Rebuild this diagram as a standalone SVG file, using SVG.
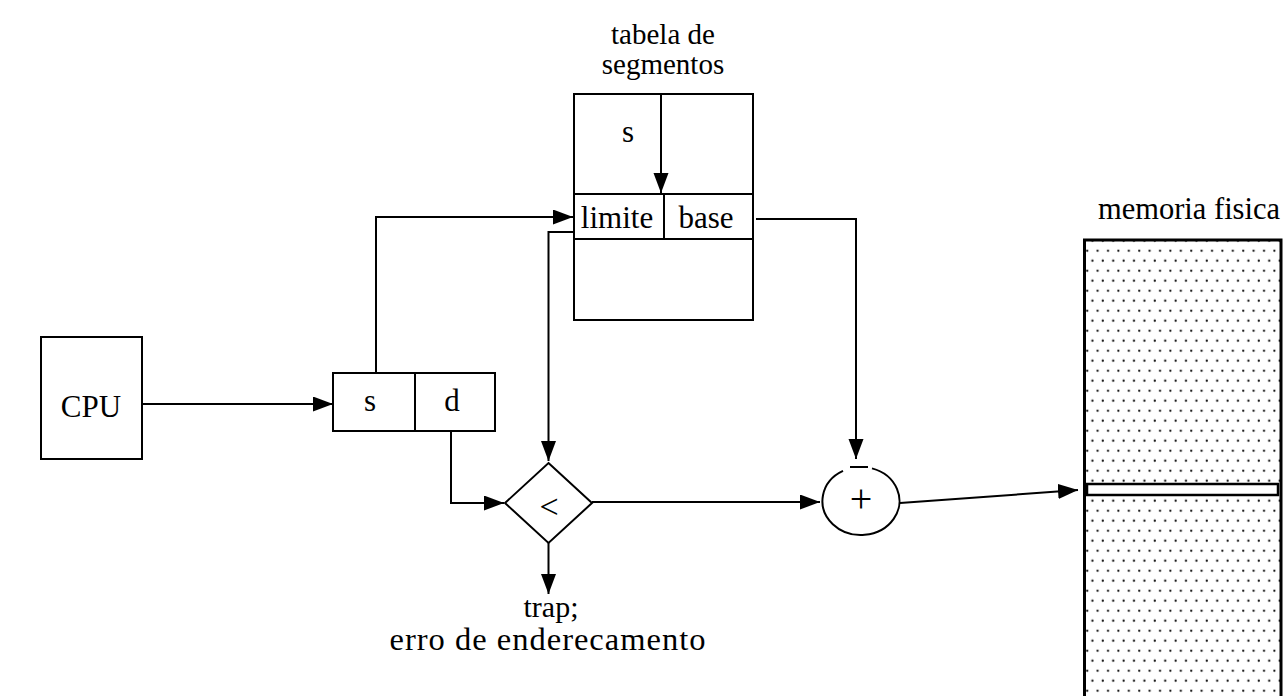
<svg xmlns="http://www.w3.org/2000/svg" width="1283" height="696" viewBox="0 0 1283 696">
<style>
.ln{fill:none;stroke:#000;stroke-width:2}
.bx{fill:#fff;stroke:#000;stroke-width:2}
.t{font-family:"Liberation Serif","Times New Roman",serif;font-size:29px;fill:#000;text-anchor:middle}
.c{font-size:31px}
</style>
<defs>
<marker id="ah" markerUnits="userSpaceOnUse" markerWidth="21" markerHeight="16" refX="20" refY="7.5" orient="auto">
<path d="M0,0 L20,7.5 L0,15 Z" fill="#000"/>
</marker>
<pattern id="dots" patternUnits="userSpaceOnUse" x="1086" y="249.7" width="10.4" height="20">
<circle cx="1.2" cy="1" r="1.15" fill="#111"/>
<circle cx="6.4" cy="11" r="1.15" fill="#111"/>
</pattern>
</defs>

<g id="title-tabela">
<text class="t" x="663" y="44">tabela de</text>
<text class="t" x="663" y="74">segmentos</text>
</g>

<g id="tabela">
<rect class="bx" x="574" y="94" width="179" height="226"/>
<line class="ln" x1="574" y1="194" x2="753" y2="194"/>
<line class="ln" x1="574" y1="239" x2="753" y2="239"/>
<line class="ln" x1="664" y1="194" x2="664" y2="239"/>
<text class="t c" x="628" y="142">s</text>
<text class="t c" x="617" y="228">limite</text>
<text class="t c" x="706" y="228">base</text>
</g>

<g id="cpu">
<rect class="bx" x="41" y="337" width="101" height="122"/>
<text class="t" x="91" y="417" style="font-size:31px">CPU</text>
</g>

<g id="endereco">
<rect class="bx" x="333" y="373" width="162" height="58"/>
<line class="ln" x1="415" y1="373" x2="415" y2="431"/>
<text class="t c" x="370" y="411">s</text>
<text class="t c" x="452" y="411">d</text>
</g>

<g id="comparador">
<path class="bx" d="M548.5,463 L592,503 L548.5,543 L505,503 Z"/>
<text class="t" x="549" y="518" style="font-size:34px">&lt;</text>
</g>

<g id="somador">
<path class="ln" d="M872,468.4 A38.5,34 0 1 1 843,470.9"/>
<line class="ln" x1="850" y1="467" x2="868" y2="467"/>
<text class="t" x="861" y="512" style="font-size:40px">+</text>
</g>

<g id="memoria">
<text class="t" x="1189" y="219" style="font-size:30.5px">memoria fisica</text>
<rect x="1084.5" y="240" width="196.5" height="470" fill="url(#dots)" stroke="#000" stroke-width="3"/>
<rect x="1087" y="484" width="191" height="11" fill="#fff" stroke="#000" stroke-width="2.5"/>
</g>

<g id="erro">
<text class="t" x="551" y="617" style="font-size:30px">trap;</text>
<text class="t" x="548" y="650" style="font-size:32.5px;letter-spacing:1px">erro de enderecamento</text>
</g>

<g id="connectors">
<line class="ln" x1="142" y1="404" x2="333" y2="404" marker-end="url(#ah)"/>
<polyline class="ln" points="661,94 661,193" marker-end="url(#ah)"/>
<polyline class="ln" points="376,373 376,217 573,217" marker-end="url(#ah)"/>
<polyline class="ln" points="573,232 548.5,232 548.5,461" marker-end="url(#ah)"/>
<polyline class="ln" points="451,431 451,503 504,503" marker-end="url(#ah)"/>
<polyline class="ln" points="548.5,543 548.5,594" marker-end="url(#ah)"/>
<polyline class="ln" points="756,219 856,219 856,459" marker-end="url(#ah)"/>
<line class="ln" x1="592" y1="502" x2="820" y2="502" marker-end="url(#ah)"/>
<line class="ln" x1="900" y1="503" x2="1078" y2="490" marker-end="url(#ah)"/>
</g>
</svg>
